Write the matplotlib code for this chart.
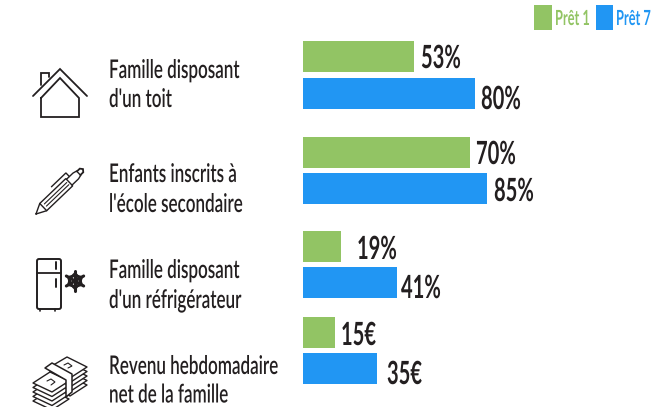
import matplotlib as M
M.use('agg')
import numpy as N
import matplotlib.pyplot as plt
from matplotlib.patheffects import AbstractPathEffect
from matplotlib.transforms import Affine2D

# bar lengths (they are not proportional to the labels)
labels = ["Famille disposant\nd'un toit", "Enfants inscrits à\nl'école secondaire",
          "Famille disposant\nd'un réfrigérateur", "Revenu hebdomadaire\nnet de la famille"]
pret1 = [111, 167, 38, 32]
pret7 = [172, 184, 94, 74]
pret1_txt = ['53%', '70%', '19%', '15€']
pret7_txt = ['80%', '85%', '41%', '35€']

GREEN = '#92C464'
BLUE = '#2196F3'
DARK = '#231F20'
FONT = 'Lato'

# no condensed face installed, so squeeze the glyphs sideways around the text anchor
class Squeeze(AbstractPathEffect):
    def __init__(self, sx, x0):
        super().__init__()
        self.sx = sx
        self.x0 = x0
    def draw_path(self, renderer, gc, tpath, affine, rgbFace=None):
        sq = Affine2D().translate(-self.x0, 0).scale(self.sx, 1).translate(self.x0, 0)
        renderer.draw_path(gc, tpath, affine + sq, rgbFace)

fig = plt.figure(figsize=(6.56, 4.07), dpi=100)
ax = fig.add_axes([0, 0, 1, 1])
ax.set_xlim(0, 656)
ax.set_ylim(407, 0)
ax.axis('off')
rend = fig.canvas.get_renderer()

def squeezed(x, y, s, sx, **kw):
    t = ax.text(x, y, s, family=FONT, va='baseline', **kw)
    t.set_path_effects([Squeeze(sx, x)])
    return t

def ratio(s, target, **kw):
    t = ax.text(0, 0, s, family=FONT, **kw)
    w = t.get_window_extent(rend).width
    t.remove()
    return target / w

# layout in pixels
y1 = [56.5, 152.5, 246.5, 332.5]
y7 = [93.5, 188.5, 282.5, 368.5]
x1_txt = [421, 476, 357, 341]
x7_txt = [481, 494, 401, 387]
y1_txt = [68, 164, 259, 345]
y7_txt = [109, 201, 298, 384]
line1 = [78, 182, 278, 374]
line2 = [107, 212, 308, 402.5]

ax.barh(y1, pret1, height=31, left=303, color=GREEN)
ax.barh(y7, pret7, height=31, left=303, color=BLUE)

val_kw = dict(weight='bold', size=23)
lab_kw = dict(weight='semibold', size=18.5)
sx_val = ratio('53%', 40, **val_kw)
sx_lab = ratio('Revenu hebdomadaire', 170, **lab_kw)
for i in range(4):
    squeezed(x1_txt[i], y1_txt[i], pret1_txt[i], sx_val, color=DARK, **val_kw)
    squeezed(x7_txt[i], y7_txt[i], pret7_txt[i], sx_val, color=DARK, **val_kw)
    a, b = labels[i].split('\n')
    squeezed(109, line1[i], a, sx_lab, color=DARK, **lab_kw)
    squeezed(109, line2[i], b, sx_lab, color=DARK, **lab_kw)

# legend
ax.add_patch(plt.Rectangle((534, 5), 18, 25, color=GREEN, lw=0))
ax.add_patch(plt.Rectangle((596, 5), 17, 25, color=BLUE, lw=0))
leg_kw = dict(weight='bold', size=15)
sx_leg = ratio('Prêt 1', 35, **leg_kw)
squeezed(590, 25, 'Prêt 1', sx_leg, color=GREEN, ha='right', **leg_kw)
squeezed(651, 25, 'Prêt 7', sx_leg, color=BLUE, ha='right', **leg_kw)

def poly(pts, lw=1.5, close=False, fc='none'):
    pts = N.array(pts, dtype=float)
    if close:
        pts = N.vstack([pts, pts[0]])
    if fc != 'none':
        ax.fill(pts[:, 0], pts[:, 1], fc=fc, ec=DARK, lw=lw, joinstyle='round')
    else:
        ax.plot(pts[:, 0], pts[:, 1], color=DARK, lw=lw, solid_capstyle='round', solid_joinstyle='miter')

# house
poly([(33, 96), (60, 69), (87, 96)], 1.3)
poly([(41, 98), (41, 117), (79, 117), (79, 98), (60, 78), (41, 98)], 1.3)
poly([(41, 85), (41, 73), (49, 73), (49, 77)], 1.3)

# pen, drawn along its axis then rotated
p0 = N.array([36., 214.])
ang = N.arctan2(170 - 214, 82 - 36)
def pen(pts, lw=1.0):
    pts = N.array(pts, dtype=float)
    c, s = N.cos(ang), N.sin(ang)
    poly(N.c_[p0[0] + pts[:, 0]*c - pts[:, 1]*s, p0[1] + pts[:, 0]*s + pts[:, 1]*c], lw)
pen([(0, 0), (10, -5), (46, -5), (46, 5), (10, 5), (0, 0)])
pen([(10, -5), (10, 5)])
pen([(13, -1.5), (44, -1.5)], 0.8)
pen([(13, 1.5), (44, 1.5)], 0.8)
pen([(46, -4), (55, -4), (59, -3), (59, 3), (55, 4), (46, 4)])
pen([(59, -2.5), (63, -2.5), (65, 0), (63, 2.5), (59, 2.5)], 1.3)
pen([(50, -4), (50, -9), (30, -9)], 1.0)

# fridge
ax.add_patch(M.patches.FancyBboxPatch((37, 259), 24, 50, boxstyle='round,pad=0,rounding_size=2', fc='none', ec=DARK, lw=1.4))
poly([(37, 273), (61, 273)], 1.3)
poly([(56, 262), (56, 269)], 1.4)
poly([(56, 279), (56, 287)], 1.4)
poly([(40, 309), (40, 311)], 1.2)
poly([(55, 309), (55, 311)], 1.2)

# snowflake
cx, cy = 75, 281
for a in N.deg2rad([30, 90, 150, 210, 270, 330]):
    d = N.array([N.cos(a), N.sin(a)])
    n = N.array([-d[1], d[0]])
    c = N.array([cx, cy])
    poly([c, c + 10*d], 2.2)
    poly([c + 3.5*d + 4*n, c + 7.5*d, c + 3.5*d - 4*n], 1.9)

# banknotes, back stack then front stack
for k in range(4, -1, -1):
    dy = 4.5*k
    poly([(50, 367+dy), (67, 357+dy), (87, 367+dy), (70, 378+dy)], 1.0, True, 'white')
poly([(64, 365), (68, 363), (72, 366), (68, 368)], 0.8)
for k in range(4, -1, -1):
    dy = 4.5*k
    poly([(33, 383+dy), (50, 372+dy), (69, 381+dy), (52, 392+dy)], 1.0, True, 'white')
poly([(47, 381), (51, 379), (55, 382), (51, 385)], 0.8)
poly([(45, 368), (52, 363), (72, 374), (72, 392), (66, 397), (66, 380), (45, 368)], 1.1, False, 'white')

fig.savefig('out.png', dpi=100)
